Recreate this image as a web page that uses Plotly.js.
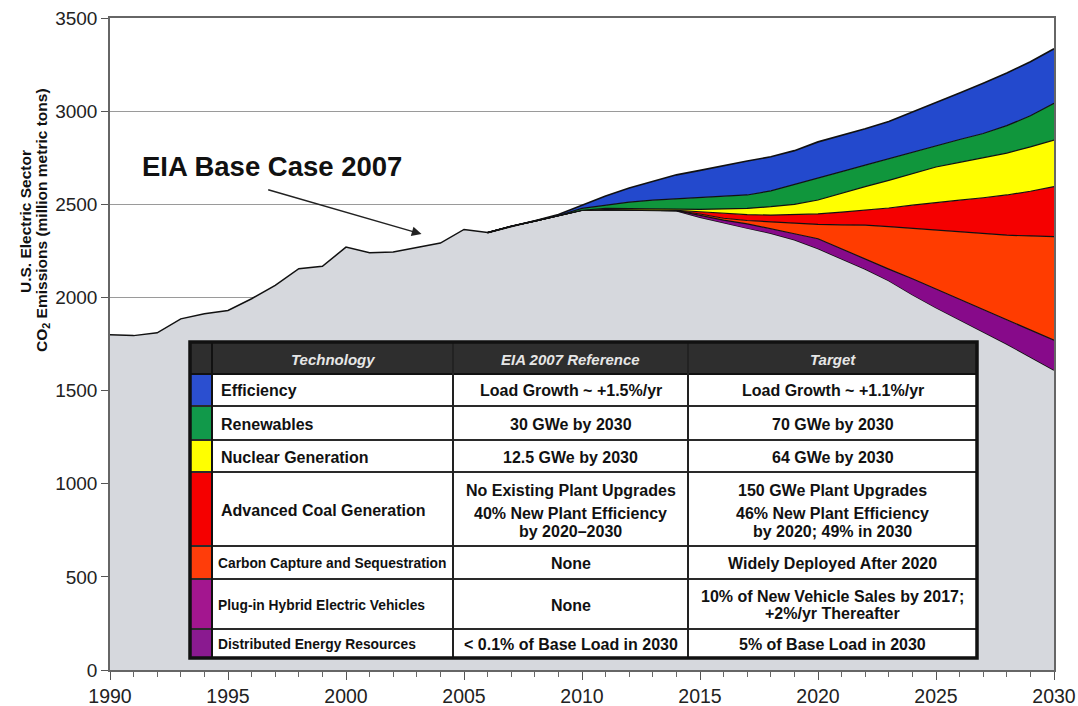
<!DOCTYPE html>
<html>
<head>
<meta charset="utf-8">
<script src="https://cdn.plot.ly/plotly-3.0.1.min.js"></script>
<style>
html,body{margin:0;padding:0;background:#ffffff;}
#chart{width:1078px;height:706px;}
</style>
</head>
<body>
<div id="chart"></div>
<script>
// ---------------- DATA ----------------
const histYears = [1990,1991,1992,1993,1994,1995,1996,1997,1998,1999,2000,2001,2002,2003,2004,2005,2006];
const histEmissions = [1800,1795,1810,1885,1912,1930,1993,2065,2154,2167,2270,2240,2244,2270,2292,2365,2348];

const projYears = [2006,2007,2008,2009,2010,2011,2012,2013,2014,2015,2016,2017,2018,2019,2020,2021,2022,2023,2024,2025,2026,2027,2028,2029,2030];
// upper edge of the grey area (all technologies applied)
const targetCase   = [2348,2382,2410,2440,2468,2470,2468,2466,2465,2430,2400,2372,2345,2310,2262,2205,2152,2090,2015,1945,1880,1815,1750,1680,1610];
// upper edge of each coloured band
const derPhevTop   = [2348,2382,2410,2440,2468,2471,2469,2467,2466,2440,2415,2395,2370,2342,2315,2260,2205,2152,2100,2045,1992,1935,1880,1825,1770];
const ccsTop       = [2348,2382,2410,2440,2468,2471,2469,2467,2466,2448,2425,2413,2405,2398,2392,2390,2388,2380,2370,2360,2350,2340,2334,2330,2326];
const advCoalTop   = [2348,2382,2410,2440,2468,2472,2470,2468,2467,2460,2450,2444,2442,2445,2448,2458,2468,2480,2495,2510,2522,2535,2550,2570,2595];
const nuclearTop   = [2348,2382,2410,2440,2468,2478,2476,2474,2473,2473,2475,2478,2487,2500,2523,2560,2595,2628,2665,2700,2725,2750,2775,2808,2845];
const renewTop     = [2348,2382,2410,2440,2478,2496,2512,2522,2530,2536,2543,2550,2572,2605,2638,2675,2710,2745,2778,2812,2848,2880,2922,2975,3042];
const eiaBaseCase  = [2348,2382,2412,2445,2495,2545,2588,2625,2658,2682,2708,2732,2755,2788,2835,2868,2905,2945,2995,3048,3098,3150,3205,3265,3335];

const bandNames  = ["DER + PHEV","Carbon Capture and Sequestration","Advanced Coal Generation","Nuclear Generation","Renewables","Efficiency"];
const bandColors = ["#870a8a","#ff3c00","#f50000","#ffff00","#10963c","#2349cd"];

// table
const headers = ["Technology","EIA 2007 Reference","Target"];
const techNames = ["Efficiency","Renewables","Nuclear Generation","Advanced Coal Generation","Carbon Capture and Sequestration","Plug-in Hybrid Electric Vehicles","Distributed Energy Resources"];
const eiaReference = [["Load Growth ~ +1.5%/yr"],["30 GWe by 2030"],["12.5 GWe by 2030"],["No Existing Plant Upgrades","40% New Plant Efficiency","by 2020–2030"],["None"],["None"],["&lt; 0.1% of Base Load in 2030"]];
const targets = [["Load Growth ~ +1.1%/yr"],["70 GWe by 2030"],["64 GWe by 2030"],["150 GWe Plant Upgrades","46% New Plant Efficiency","by 2020; 49% in 2030"],["Widely Deployed After 2020"],["10% of New Vehicle Sales by 2017;","+2%/yr Thereafter"],["5% of Base Load in 2030"]];
const swatchColors = ["#2b4fd0","#11994a","#ffff00","#f50000","#ff3d0a","#a3168f","#8a1a90"];
const narrowRows = [false,false,false,false,true,true,true];

// ---------------- LAYOUT GEOMETRY ----------------
const L = 110, R = 1054, T = 18, B = 670;
const px = x => (x - L) / (R - L);
const py = y => (B - y) / (B - T);

const FONT = "Liberation Sans, Arial, Helvetica, sans-serif";
const GREY = "#d6d8dd";

// ---------------- TRACES ----------------
const traces = [];
// whole grey area: history followed by the target projection
traces.push({x: histYears.concat(projYears.slice(1)), y: histEmissions.concat(targetCase.slice(1)),
  type: "scatter", mode: "lines", fill: "tozeroy",
  fillcolor: GREY, line: {color: "#111", width: 1.5}, hoverinfo: "x+y", showlegend: false});
// invisible reference edge so the bands stack only over the projection years
traces.push({x: projYears, y: targetCase, type: "scatter", mode: "lines",
  line: {color: "rgba(0,0,0,0)", width: 0}, hoverinfo: "skip", showlegend: false});
const bandTops = [derPhevTop, ccsTop, advCoalTop, nuclearTop, renewTop, eiaBaseCase];
bandTops.forEach((vals, i) => {
  traces.push({x: projYears, y: vals, type: "scatter", mode: "lines", fill: "tonexty",
    fillcolor: bandColors[i], name: bandNames[i],
    line: {color: "#111", width: i === bandTops.length - 1 ? 1.6 : 1.2}, showlegend: false});
});

// ---------------- TABLE (shapes + annotations) ----------------
const tLeft = 190, swRight = 212, c1 = 453, c2 = 688, tRight = 977, tTop = 342, hBottom = 374;
const rowBottoms = [406, 440, 472, 546, 579, 629, 658];

const shapes = [];
const rect = (x0, y0, x1, y1, fill, lineColor, lw) => ({type: "rect", xref: "paper", yref: "paper",
  x0: px(x0), x1: px(x1), y0: py(y1), y1: py(y0), fillcolor: fill, line: {color: lineColor, width: lw}, layer: "above"});
const hline = (x0, x1, y, color, lw) => ({type: "line", xref: "paper", yref: "paper",
  x0: px(x0), x1: px(x1), y0: py(y), y1: py(y), line: {color: color, width: lw}, layer: "above"});
const vline = (x, y0, y1, color, lw) => ({type: "line", xref: "paper", yref: "paper",
  x0: px(x), x1: px(x), y0: py(y0), y1: py(y1), line: {color: color, width: lw}, layer: "above"});

const tBottom = rowBottoms[rowBottoms.length - 1];
shapes.push(rect(tLeft, tTop, tRight, tBottom, "#ffffff", "rgba(0,0,0,0)", 0));
shapes.push(rect(tLeft, tTop, tRight, hBottom, "#2e2e2e", "rgba(0,0,0,0)", 0));
let prev = hBottom;
rowBottoms.forEach((yb, i) => {
  shapes.push(rect(tLeft, prev, swRight, yb, swatchColors[i], "rgba(0,0,0,0)", 0));
  prev = yb;
});
rowBottoms.slice(0, -1).forEach(yb => shapes.push(hline(tLeft, tRight, yb, "#2a2a2a", 2)));
shapes.push(hline(tLeft, tRight, hBottom, "#111", 2));
shapes.push(vline(swRight, tTop, tBottom, "#111", 2));
shapes.push(vline(c1, tTop, tBottom, "#222", 2));
shapes.push(vline(c2, tTop, tBottom, "#222", 2));
shapes.push(rect(tLeft, tTop, tRight, tBottom, "rgba(0,0,0,0)", "#111", 3.5));

const annotations = [];
const txt = (x, y, text, opts) => Object.assign({xref: "paper", yref: "paper", x: px(x), y: py(y),
  text: text, showarrow: false, xanchor: "center", yanchor: "middle",
  font: {family: FONT, size: 16, color: "#111"}}, opts || {});

// header
const headerCenters = [(swRight + c1) / 2, (c1 + c2) / 2, (c2 + tRight) / 2];
headers.forEach((h, i) => annotations.push(txt(headerCenters[i], (tTop + hBottom) / 2 + 1, "<b><i>" + h + "</i></b>",
  {font: {family: FONT, size: 15, color: "#e6e6e6"}})));

// rows
prev = hBottom;
const lineYs = (top, bottom, n) => {
  const mid = (top + bottom) / 2;
  if (n === 1) return [mid];
  if (n === 2) return [mid - 8.5, mid + 8.5];
  return [top + 17, top + 40, top + 58];
};
rowBottoms.forEach((yb, i) => {
  const top = prev, mid = (prev + yb) / 2;
  annotations.push(txt(narrowRows[i] ? 216 : 219, mid + 1, "<b>" + techNames[i] + "</b>",
    {xanchor: "left", font: {family: FONT, size: narrowRows[i] ? 13.8 : 16, color: "#111"}}));
  const ys1 = lineYs(top, yb, eiaReference[i].length);
  eiaReference[i].forEach((t, k) => annotations.push(txt((c1 + c2) / 2, ys1[k] + 1, "<b>" + t + "</b>")));
  const ys2 = lineYs(top, yb, targets[i].length);
  targets[i].forEach((t, k) => annotations.push(txt((c2 + tRight) / 2, ys2[k] + 1, "<b>" + t + "</b>")));
  prev = yb;
});

// chart label and arrow
annotations.push(txt(272, 166, "<b>EIA Base Case 2007</b>", {font: {family: FONT, size: 27.5, color: "#111"}}));
annotations.push({xref: "x", yref: "y", axref: "x", ayref: "y", x: 2003.2, y: 2340, ax: 1996.64, ay: 2580,
  text: "", showarrow: true, arrowhead: 2, arrowsize: 1.3, arrowwidth: 1.5, arrowcolor: "#222"});

// y-axis title (two rotated lines)
annotations.push(txt(26, 222, "<b>U.S. Electric Sector</b>", {textangle: -90, font: {family: FONT, size: 15.5, color: "#111"}}));
annotations.push(txt(42, 220, "<b>CO<sub>2</sub> Emissions (million metric tons)</b>", {textangle: -90, font: {family: FONT, size: 15.5, color: "#111"}}));

const layout = {
  width: 1078, height: 706,
  margin: {l: L, r: 1078 - R, t: T, b: 706 - B, pad: 0},
  paper_bgcolor: "#ffffff", plot_bgcolor: "#ffffff",
  showlegend: false,
  font: {family: FONT, size: 19, color: "#222"},
  xaxis: {range: [1990, 2030], tick0: 1990, dtick: 5, ticks: "outside", ticklen: 8, tickcolor: "#555",
    showgrid: false, zeroline: false, showline: true, linecolor: "#666", linewidth: 1.5, mirror: true,
    tickfont: {family: FONT, size: 19.5, color: "#222"},
    minor: {dtick: 1, ticks: "outside", ticklen: 5, tickcolor: "#666", showgrid: false}},
  yaxis: {range: [0, 3500], tick0: 0, dtick: 500, ticks: "outside", ticklen: 7, tickcolor: "#555",
    showgrid: true, gridcolor: "#9a9a9a", gridwidth: 1, zeroline: false,
    showline: true, linecolor: "#666", linewidth: 1.5, mirror: true,
    tickfont: {family: FONT, size: 19, color: "#222"}},
  shapes: shapes,
  annotations: annotations
};

Plotly.newPlot("chart", traces, layout, {displayModeBar: false, responsive: false});
</script>
</body>
</html>
